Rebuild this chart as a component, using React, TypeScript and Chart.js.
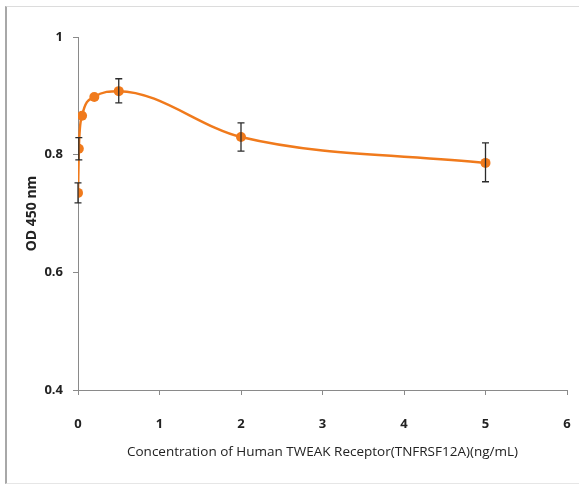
import React, { useEffect, useRef } from "react";
import { Chart, registerables } from "chart.js";

Chart.register(...registerables);

const concentrations = [0, 0.01, 0.05, 0.2, 0.5, 2, 5];
const odValues = [0.735, 0.81, 0.866, 0.898, 0.908, 0.83, 0.786];
const errUpper = [0.752, 0.829, 0.87, 0.9, 0.929, 0.854, 0.82];
const errLower = [0.718, 0.791, 0.862, 0.896, 0.888, 0.806, 0.754];
const xTicks = [0, 1, 2, 3, 4, 5, 6];
const yTicks = [0.4, 0.6, 0.8, 1];
const xTitle = "Concentration of Human TWEAK Receptor(TNFRSF12A)(ng/mL)";
const yTitle = "OD 450 nm";

const ORANGE = "#F07A1C";

const errorBarPlugin = {
  id: "errorBars",
  afterDatasetsDraw(chart: any) {
    const ctx = chart.ctx;
    const xs = chart.scales.x;
    const ys = chart.scales.y;
    ctx.save();
    ctx.strokeStyle = "#2b2b2b";
    ctx.lineWidth = 1.3;
    concentrations.forEach((c, i) => {
      const px = xs.getPixelForValue(c);
      const top = ys.getPixelForValue(errUpper[i]);
      const bot = ys.getPixelForValue(errLower[i]);
      if (Math.abs(bot - top) < 6) return;
      ctx.beginPath();
      ctx.moveTo(px, top);
      ctx.lineTo(px, bot);
      ctx.moveTo(px - 3.5, top);
      ctx.lineTo(px + 3.5, top);
      ctx.moveTo(px - 3.5, bot);
      ctx.lineTo(px + 3.5, bot);
      ctx.stroke();
    });
    ctx.restore();
  },
};

export default function App() {
  const ref = useRef<HTMLCanvasElement | null>(null);
  useEffect(() => {
    if (!ref.current) return;
    const chart = new Chart(ref.current, {
      type: "scatter",
      data: {
        datasets: [
          {
            data: concentrations.map((c, i) => ({ x: c, y: odValues[i] })),
            showLine: true,
            borderColor: ORANGE,
            backgroundColor: ORANGE,
            borderWidth: 2.5,
            pointRadius: 5,
            pointBorderWidth: 0,
            tension: 0.4,
            cubicInterpolationMode: "monotone",
          },
        ],
      },
      options: {
        responsive: false,
        animation: false,
        layout: { padding: { left: 20, top: 37, right: 12, bottom: 20 } },
        plugins: { legend: { display: false }, tooltip: { enabled: false } },
        scales: {
          x: {
            type: "linear",
            min: 0,
            max: 6,
            afterBuildTicks: (s: any) => {
              s.ticks = xTicks.map((v) => ({ value: v }));
            },
            afterFit: (s: any) => {
              s.height = 76;
              s.paddingLeft = 0;
              s.paddingRight = 5;
            },
            grid: {
              display: true,
              drawOnChartArea: false,
              drawTicks: true,
              tickLength: 5,
              color: "#8a8a8a",
            },
            border: { display: true, color: "#8a8a8a", width: 1 },
            ticks: {
              color: "#222",
              font: { family: "Open Sans", size: 13, weight: "bold" },
              padding: 21,
              maxRotation: 0,
            },
            title: {
              display: true,
              text: xTitle,
              color: "#222",
              font: { family: "Open Sans", size: 13.5 },
              padding: { top: 0, bottom: 6 },
            },
          },
          y: {
            type: "linear",
            min: 0.4,
            max: 1,
            afterBuildTicks: (s: any) => {
              s.ticks = yTicks.map((v) => ({ value: v }));
            },
            afterFit: (s: any) => {
              s.width = 58;
            },
            grid: {
              display: true,
              drawOnChartArea: false,
              drawTicks: true,
              tickLength: 5,
              color: "#8a8a8a",
            },
            border: { display: true, color: "#8a8a8a", width: 1 },
            ticks: {
              color: "#222",
              font: { family: "Open Sans", size: 13, weight: "bold" },
              padding: 10,
              callback: (v: any) => String(v),
            },
            title: {
              display: true,
              text: yTitle,
              color: "#222",
              font: { family: "Open Sans", size: 14, weight: "bold" },
              padding: { top: 4, bottom: 0 },
            },
          },
        },
      },
      plugins: [errorBarPlugin],
    } as any);
    return () => chart.destroy();
  }, []);

  return (
    <div
      style={{
        position: "fixed",
        left: 0,
        top: 0,
        width: 579,
        height: 486,
        background: "#fff",
      }}
    >
      <canvas ref={ref} width={579} height={486} style={{ display: "block" }} />
      <div
        style={{
          position: "absolute",
          left: 5,
          top: 6,
          width: 572,
          height: 476,
          borderTop: "1px solid #dcdcdc",
          borderRight: "1px solid #e6e6e6",
          borderBottom: "1px solid #e6e6e6",
          borderLeft: "2px solid #a8a8a8",
          pointerEvents: "none",
        }}
      />
    </div>
  );
}
